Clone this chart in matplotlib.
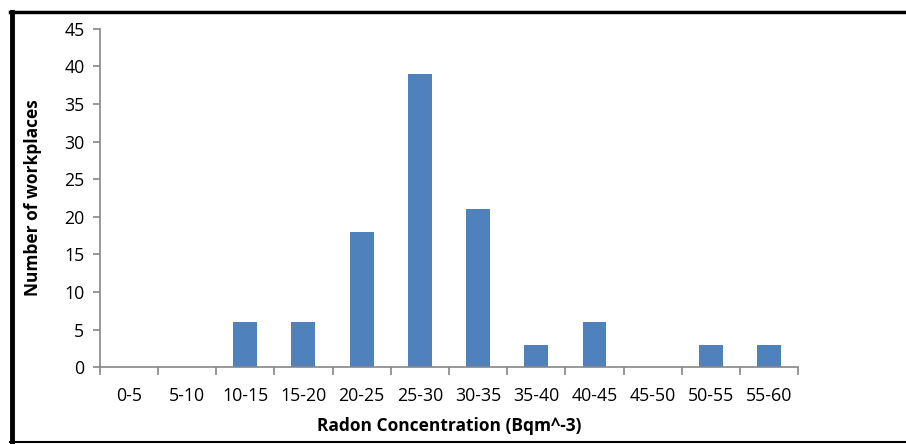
import matplotlib.pyplot as plt
from matplotlib.lines import Line2D
import numpy as np

categories = ['0-5', '5-10', '10-15', '15-20', '20-25', '25-30', '30-35',
              '35-40', '40-45', '45-50', '50-55', '55-60']
counts = [0, 0, 6, 6, 18, 39, 21, 3, 6, 0, 3, 3]

plt.rcParams['font.family'] = ['Open Sans', 'DejaVu Sans']

fig = plt.figure(figsize=(9.06, 4.44), dpi=100)
ax = fig.add_axes([0.110, 0.173, 0.771, 0.762])

x = np.arange(len(categories))
ax.bar(x, counts, width=0.41, color='#4F81BD', zorder=2)

ax.set_xlim(-0.5, len(categories) - 0.5)
ax.set_ylim(0, 45)
ax.set_yticks(np.arange(0, 46, 5))
ax.set_xticks(x)
ax.set_xticklabels(categories)
# tick marks sit between categories
ax.set_xticks(np.arange(-0.5, len(categories), 1), minor=True)
ax.tick_params(axis='x', which='major', length=0, pad=14, labelsize=12.8)
ax.tick_params(axis='x', which='minor', length=6, direction='out',
               color='#868686', width=1.2)
ax.tick_params(axis='y', length=5, direction='out', color='#868686',
               width=1.2, labelsize=12.8, pad=6)

for s in ['top', 'right']:
    ax.spines[s].set_visible(False)
for s in ['left', 'bottom']:
    ax.spines[s].set_color('#868686')
    ax.spines[s].set_linewidth(1.2)

ax.set_xlabel('Radon Concentration (Bqm^-3)', fontsize=12.5,
              fontweight='bold', labelpad=9)
ax.set_ylabel('Number of workplaces', fontsize=12.5, fontweight='bold',
              labelpad=16)

# outer frame
fig.add_artist(Line2D([0.0135, 0.0135], [0.0, 0.972], color='black', lw=3.5,
                      transform=fig.transFigure))
fig.add_artist(Line2D([0.0115, 1.0], [0.972, 0.972], color='black', lw=2.5,
                      transform=fig.transFigure))
fig.add_artist(Line2D([0.0115, 1.0], [0.004, 0.004], color='black', lw=1.5,
                      transform=fig.transFigure))

plt.savefig('out.png', dpi=100)
